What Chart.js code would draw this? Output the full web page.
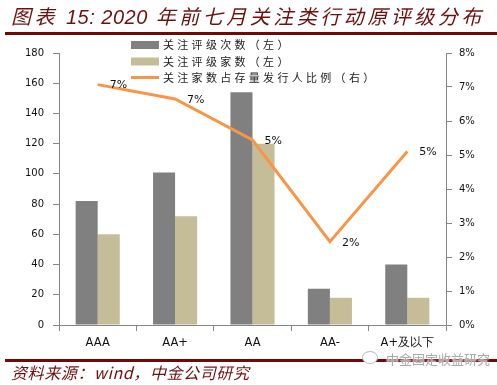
<!DOCTYPE html>
<html>
<head>
<meta charset="utf-8">
<script src="https://cdn.jsdelivr.net/npm/chart.js@4"></script>
<style>
  html, body { margin: 0; padding: 0; background: #fff; }
  #wrap { position: relative; width: 497px; height: 385px; overflow: hidden; }
  #myChart { position: absolute; left: 0; top: 0; }
  .title { position: absolute; left: 11px; top: 1px; font: italic 20px "Noto Sans CJK SC", "DejaVu Sans", sans-serif; color: #6e1010; letter-spacing: 3.5px; white-space: nowrap; }
  .title .lat { letter-spacing: 0.5px; font-family: "Liberation Sans", sans-serif; }
  .rule { position: absolute; left: 5px; width: 492px; height: 3px; background: #6e0a0a; }
  .source { position: absolute; left: 11px; top: 360px; font: italic 16px "Noto Sans CJK SC", "DejaVu Sans", sans-serif; color: #6e1010; letter-spacing: 0.6px; white-space: nowrap; }
  .mark { position: absolute; left: 386px; top: 349px; font: 13px "Noto Sans CJK SC", sans-serif; color: #aaa; text-shadow: 0 0 2px #fff, 0 0 2px #fff; white-space: nowrap; }
  .icon { position: absolute; left: 362px; top: 351px; width: 14px; height: 11px; border: 1px solid #bbb; border-radius: 50%; background: #fff; }
</style>
</head>
<body>
<div id="wrap">
  <canvas id="myChart" width="497" height="385"></canvas>
  <div class="title">图表 <span class="lat">15: 2020</span> 年前七月关注类行动原评级分布</div>
  <div class="rule" style="top:32px"></div>
  <div class="rule" style="top:359px"></div>
  <div class="source">资料来源：wind，中金公司研究</div>
  <div class="icon"></div>
  <div class="mark">中金固定收益研究</div>
</div>
<script>
// categorie e valori
const categorie = ['AAA', 'AA+', 'AA', 'AA-', 'A+及以下'];
const ratingCount = [82, 101, 154, 24, 40];
const issuerCount = [60, 72, 120, 18, 18];
const issuerRatio = [0.0707, 0.0665, 0.0544, 0.0245, 0.051];
const leftTicks = [0, 20, 40, 60, 80, 100, 120, 140, 160, 180];
const rightTicks = [0, 0.01, 0.02, 0.03, 0.04, 0.05, 0.06, 0.07, 0.08];

const axisColor = '#868686';

// etichette percentuali sulla linea
const lineLabels = {
  id: 'lineLabels',
  afterDatasetsDraw(chart) {
    const ctx = chart.ctx;
    const meta = chart.getDatasetMeta(2);
    ctx.save();
    ctx.font = '11px "DejaVu Sans"';
    ctx.fillStyle = '#111';
    ctx.textAlign = 'left';
    ctx.textBaseline = 'middle';
    meta.data.forEach(function(p, i) {
      ctx.fillText(Math.round(issuerRatio[i] * 100) + '%', p.x + 12, p.y + 1);
    });
    ctx.restore();
  }
};

// legenda disegnata a mano dentro l'area del grafico
const customLegend = {
  id: 'customLegend',
  afterDraw(chart) {
    const ctx = chart.ctx;
    const ds = chart.data.datasets;
    const rows = [45, 61.5, 77.5];
    ctx.save();
    ctx.font = '11px "Noto Sans CJK SC"';
    ctx.letterSpacing = '3.3px';
    ctx.textBaseline = 'middle';
    ctx.textAlign = 'left';
    for (let i = 0; i < ds.length; i++) {
      const y = rows[i];
      if (ds[i].type === 'line') {
        ctx.strokeStyle = ds[i].borderColor;
        ctx.lineWidth = 3;
        ctx.beginPath();
        ctx.moveTo(131, y);
        ctx.lineTo(159, y);
        ctx.stroke();
      } else {
        ctx.fillStyle = ds[i].backgroundColor;
        ctx.fillRect(131, y - 4, 28, 8);
      }
      ctx.fillStyle = '#222';
      ctx.fillText(ds[i].label, 163, y);
    }
    ctx.restore();
  }
};

var data = {
  labels: categorie,
  datasets: [
    {
      label: '关注评级次数（左）',
      data: ratingCount,
      backgroundColor: '#808080',
      yAxisID: 'y',
      order: 2
    },
    {
      label: '关注评级家数（左）',
      data: issuerCount,
      backgroundColor: '#c4bd97',
      yAxisID: 'y',
      order: 2
    },
    {
      type: 'line',
      label: '关注家数占存量发行人比例（右）',
      data: issuerRatio,
      borderColor: '#f79646',
      backgroundColor: '#f79646',
      borderWidth: 3,
      pointRadius: 0,
      tension: 0,
      yAxisID: 'y1',
      order: 0
    }
  ]
};

var ctx = document.getElementById('myChart').getContext('2d');
var myChart = new Chart(ctx, {
  type: 'bar',
  data: data,
  plugins: [lineLabels, customLegend],
  options: {
    responsive: false,
    animation: false,
    layout: { padding: { top: 53, left: 0, right: 0, bottom: 0 } },
    datasets: { bar: { barPercentage: 1, categoryPercentage: 0.57 } },
    plugins: { legend: { display: false }, tooltip: { enabled: false } },
    scales: {
      x: {
        afterFit: function(s) { s.height = 60; },
        border: { display: true, color: axisColor, width: 1 },
        grid: { display: true, drawOnChartArea: false, drawTicks: true, tickLength: 6, color: axisColor, offset: true },
        ticks: { color: '#111', font: { family: 'DejaVu Sans', size: 11.5 }, padding: 5, maxRotation: 0 }
      },
      y: {
        position: 'left',
        min: 0,
        max: 180,
        afterFit: function(s) { s.width = 59; },
        afterBuildTicks: function(s) { s.ticks = leftTicks.map(v => ({ value: v })); },
        border: { display: true, color: axisColor, width: 1 },
        grid: { display: true, drawOnChartArea: false, tickLength: 6, color: axisColor },
        ticks: { color: '#111', font: { family: 'DejaVu Sans', size: 10 }, padding: 9 }
      },
      y1: {
        position: 'right',
        min: 0,
        max: 0.08,
        afterFit: function(s) { s.width = 51; },
        afterBuildTicks: function(s) { s.ticks = rightTicks.map(v => ({ value: v })); },
        border: { display: true, color: axisColor, width: 1 },
        grid: { display: true, drawOnChartArea: false, tickLength: 6, color: axisColor },
        ticks: {
          color: '#111',
          font: { family: 'DejaVu Sans', size: 10 },
          padding: 7,
          callback: function(v) { return Math.round(v * 100) + '%'; }
        }
      }
    }
  }
});
</script>
</body>
</html>
